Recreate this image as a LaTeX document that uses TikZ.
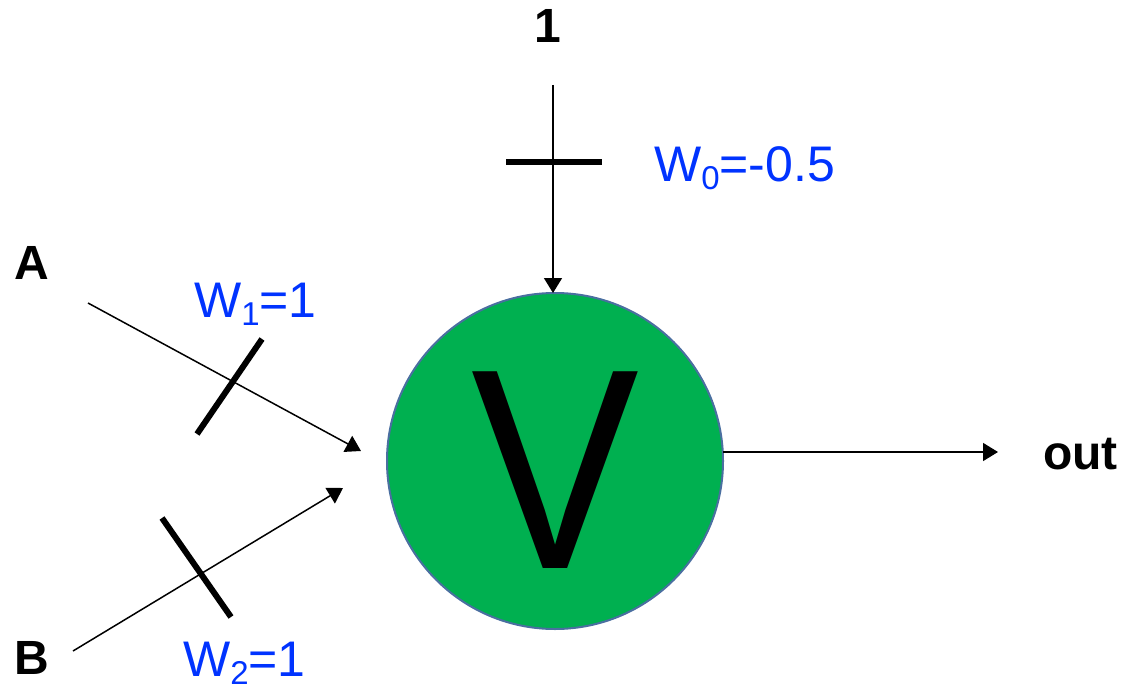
\documentclass[tikz,border=0pt]{standalone}
\usepackage{fontspec}
\setmainfont{Liberation Sans}
\usetikzlibrary{arrows.meta}
\definecolor{cgreen}{HTML}{00B050}
\definecolor{cborder}{HTML}{4A6FA0}
\definecolor{wblue}{HTML}{0033FF}
\newcommand\wsub[1]{\raisebox{-8pt}[\height][0pt]{\fontsize{33}{36}\selectfont #1}}
\tikzset{
  lbl/.style={inner sep=0pt, font=\fontsize{48}{56}\selectfont\bfseries},
  wlbl/.style={inner sep=0pt, text=wblue, font=\fontsize{50}{58}\selectfont, anchor=base west},
  conn/.style={line width=1.5pt, -{Triangle[length=15pt,width=18pt]}},
  bar/.style={line width=6pt}
}
\begin{document}
\begin{tikzpicture}[x=1pt,y=-1pt]
\useasboundingbox (0,0) rectangle (1126,687);
\node[circle, fill=cgreen, draw=cborder, line width=2pt, minimum size=336pt, inner sep=0pt] (neuron) at (555,461) {};
\node[inner sep=0pt, anchor=base, xscale=0.88, transform shape, font=\fontsize{286}{300}\selectfont] (v) at (555,568) {V};
\node[lbl, anchor=base] (one) at (548,43) {1};
\node[lbl, anchor=base] (a) at (32,279) {A};
\node[lbl, anchor=base] (b) at (32,674) {B};
\node[lbl, anchor=base west] (out) at (1043,469) {out};
\node[wlbl] (w0) at (654,182) {W\wsub{0}=-0.5};
\node[wlbl] (w1) at (194,317) {W\wsub{1}=1};
\node[wlbl] (w2) at (183,676) {W\wsub{2}=1};
\coordinate (topstart) at (553,85);
\coordinate (topend) at (553,293);
\coordinate (astart) at (88,303);
\coordinate (aend) at (361,451);
\coordinate (bstart) at (73,651);
\coordinate (bend) at (343,488);
\coordinate (outstart) at (723,452);
\coordinate (outend) at (998,452);
\draw[conn] (topstart) -- (topend);
\draw[conn] (astart) -- (aend);
\draw[conn] (bstart) -- (bend);
\draw[conn] (outstart) -- (outend);
\coordinate (b0a) at (506,162);
\coordinate (b0b) at (602,162);
\coordinate (b1a) at (197,434);
\coordinate (b1b) at (262,339);
\coordinate (b2a) at (162,518);
\coordinate (b2b) at (231,617);
\draw[bar] (b0a) -- (b0b);
\draw[bar] (b1a) -- (b1b);
\draw[bar] (b2a) -- (b2b);
\end{tikzpicture}
\end{document}
